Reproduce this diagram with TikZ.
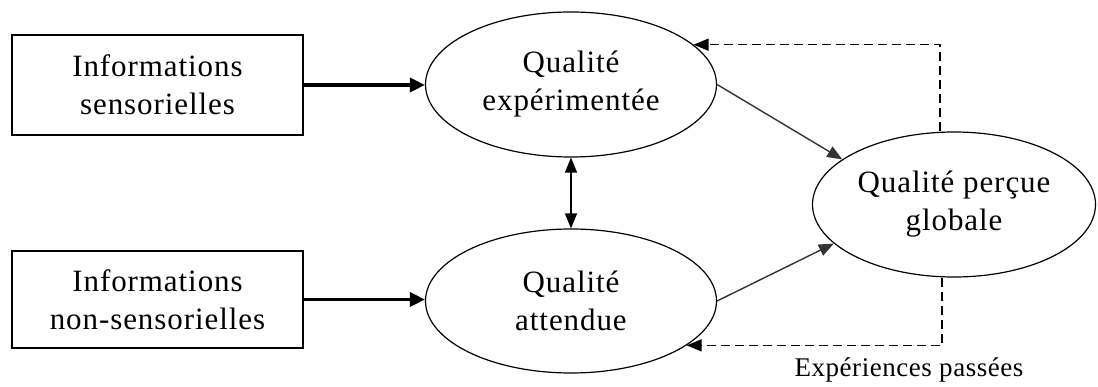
\documentclass[tikz,border=0pt]{standalone}
\usepackage{fontspec}
\setmainfont{Liberation Serif}
\usetikzlibrary{shapes.geometric,arrows.meta}
\begin{document}
\begin{tikzpicture}[x=1pt,y=-1pt,
  infobox/.style={draw,line width=1.5pt,minimum width=291pt,inner sep=0pt,align=center,font=\fontsize{31}{38}\selectfont\addfontfeatures{LetterSpace=3}},
  qual/.style={draw,ellipse,line width=1.2pt,inner sep=0pt,align=center,font=\fontsize{31}{38}\selectfont\addfontfeatures{LetterSpace=3}},
  bigarrow/.style={line width=3.5pt,-{Triangle[length=15pt,width=14pt]}},
  thinarrow/.style={line width=1.4pt,black!80,-{Triangle[length=15pt,width=12pt]}},
  duoarrow/.style={line width=1.4pt,{Triangle[length=15pt,width=12pt]}-{Triangle[length=15pt,width=12pt]}},
  feedback/.style={line width=1.5pt,dash pattern=on 9pt off 5pt,-{Triangle[length=15pt,width=12pt]}},
  caption/.style={font=\fontsize{27}{32}\selectfont\addfontfeatures{LetterSpace=2}}
]
\useasboundingbox (0,0) rectangle (1098,387);

\node[infobox,minimum height=100pt] (b1) at (157.5,85) {Informations\\sensorielles};
\node[infobox,minimum height=97pt] (b2) at (157.5,299.5) {Informations\\non-sensorielles};

\node[qual,minimum width=291pt,minimum height=145pt] (e1) at (571,84.5) {Qualité\\expérimentée};
\node[qual,minimum width=291pt,minimum height=144pt] (e2) at (571,301) {Qualité\\attendue};
\node[qual,minimum width=283pt,minimum height=145pt] (e3) at (954,204.5) {Qualité perçue\\globale};

\draw[bigarrow] (b1.east) -- (e1.west |- b1.east);
\draw[bigarrow] (b2.east) -- (e2.west |- b2.east);
\draw[duoarrow] (e1.south) -- (e2.north);
\draw[thinarrow] (e1.east) -- (e3.158);
\draw[thinarrow] (e2.east) -- (e3.198);

\coordinate (ttop) at ([xshift=-14pt]e3.north);
\coordinate (tbot) at ([xshift=-12pt]e3.south);
\draw[feedback] (ttop) |- (e1.18);
\draw[feedback] (tbot) |- (e2.-21);

\node[caption] (lab) at (909,370) {Expériences passées};
\end{tikzpicture}
\end{document}
